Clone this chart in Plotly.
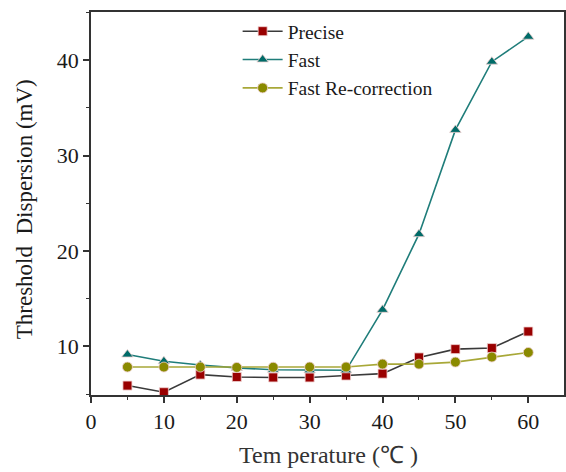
import plotly.graph_objects as go

temperature = [5, 10, 15, 20, 25, 30, 35, 40, 45, 50, 55, 60]
precise = [5.9, 5.2, 7.05, 6.8, 6.75, 6.75, 6.95, 7.15, 8.85, 9.72, 9.83, 11.57]
fast = [9.15, 8.45, 8.05, 7.75, 7.55, 7.5, 7.5, 13.84, 21.77, 32.7, 39.85, 42.47]
fast_recorr = [7.84, 7.84, 7.84, 7.8, 7.82, 7.84, 7.84, 8.15, 8.15, 8.36, 8.89, 9.37]

x_ticks = [0, 10, 20, 30, 40, 50, 60]
y_ticks = [10, 20, 30, 40]

FONT = "Liberation Serif"

fig = go.Figure()
series = [
    ("Precise", precise, "#3a3a3a", "#990000", "square", 9),
    ("Fast", fast, "#1f7d7a", "#006b68", "triangle-up", 10),
    ("Fast Re-correction", fast_recorr, "#a8a838", "#8a8a00", "circle", 10),
]
for i, (name, ys, lc, mc, sym, ms) in enumerate(series):
    fig.add_trace(go.Scatter(
        x=temperature, y=ys, name=name, mode="lines+markers",
        line=dict(color=lc, width=1.6),
        marker=dict(symbol=sym, size=ms, color=mc, line=dict(width=0.8, color="#f0d0d0")),
        legendgroup=f"g{i}",
    ))

fig.update_layout(
    width=566, height=472,
    margin=dict(l=91, r=0, t=12, b=77),
    paper_bgcolor="white", plot_bgcolor="white",
    font=dict(family=FONT, color="#1a1a1a", size=21),
    showlegend=True,
    legend=dict(
        x=0.31, y=1.0, xanchor="left", yanchor="top",
        bgcolor="rgba(0,0,0,0)", font=dict(family=FONT, size=19.5, color="#1a1a1a"),
        traceorder="grouped", tracegroupgap=0, itemwidth=40,
    ),
    xaxis=dict(
        range=[0, 64.9], tickvals=x_ticks, showgrid=False, zeroline=False,
        showline=True, linecolor="#333", linewidth=1.5, mirror=True,
        ticks="outside", ticklen=6, tickwidth=1.5, tickcolor="#333",
        minor=dict(dtick=5, tick0=0, ticks="outside", ticklen=3, tickwidth=1.2, tickcolor="#333"),
        tickfont=dict(size=22),
    ),
    yaxis=dict(
        range=[4.91, 45.06], tickvals=y_ticks, showgrid=False, zeroline=False,
        showline=True, linecolor="#333", linewidth=1.5, mirror=True,
        ticks="outside", ticklen=6, tickwidth=1.5, tickcolor="#333",
        minor=dict(dtick=5, tick0=0, ticks="outside", ticklen=3, tickwidth=1.2, tickcolor="#333"),
        tickfont=dict(size=22),
    ),
    annotations=[
        dict(text="Tem perature (℃ )", xref="paper", yref="paper",
             x=(330 - 91) / 475, y=1 - (455 - 12) / 383, xanchor="center", yanchor="middle",
             showarrow=False, font=dict(size=24, color="#333")),
        dict(text="Threshold  Dispersion (mV)", xref="paper", yref="paper",
             x=(24 - 91) / 475, y=1 - (209 - 12) / 383, xanchor="center", yanchor="middle",
             textangle=-90, showarrow=False, font=dict(size=23, color="#1a1a1a")),
    ],
)

fig.write_html("out.html")
